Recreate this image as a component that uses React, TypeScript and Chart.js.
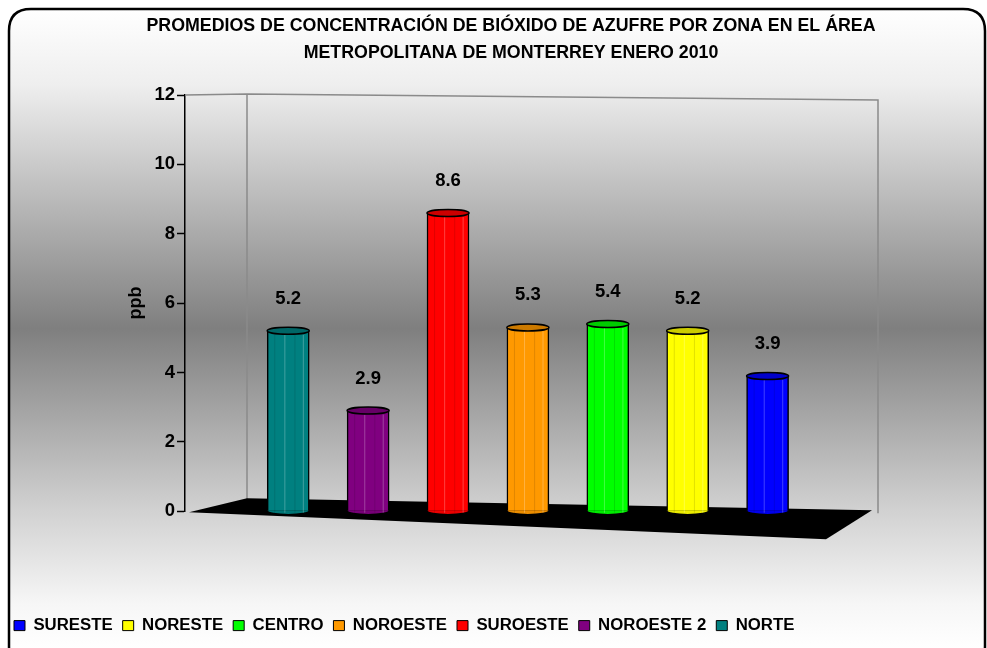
import { useEffect, useRef } from 'react';
import { Chart, registerables } from 'chart.js';

Chart.register(...registerables);

const categories = ['NORTE', 'NOROESTE 2', 'SUROESTE', 'NOROESTE', 'CENTRO', 'NORESTE', 'SURESTE'];
const values = [5.2, 2.9, 8.6, 5.3, 5.4, 5.2, 3.9];
const colors = ['#008080', '#800080', '#ff0000', '#ff9900', '#00ff00', '#ffff00', '#0000ff'];
const yTicks = [0, 2, 4, 6, 8, 10, 12];
const titleLines = [
  'PROMEDIOS DE CONCENTRACIÓN DE BIÓXIDO DE AZUFRE POR ZONA EN EL ÁREA',
  'METROPOLITANA DE MONTERREY ENERO 2010',
];
const yTitle = 'ppb';

const FONT = "'Liberation Sans', Arial, sans-serif";

function shade(hex: string, f: number) {
  const n = parseInt(hex.slice(1), 16);
  const r = Math.min(255, Math.round(((n >> 16) & 255) * f));
  const g = Math.min(255, Math.round(((n >> 8) & 255) * f));
  const b = Math.min(255, Math.round((n & 255) * f));
  return `rgb(${r},${g},${b})`;
}

const framePlugin = {
  id: 'frame',
  beforeDraw(chart: any) {
    const ctx = chart.ctx;
    const x0 = 9, y0 = 9, x1 = 985, y1 = 668, r = 22;
    ctx.save();
    const g = ctx.createLinearGradient(0, y0, 0, 648);
    g.addColorStop(0, '#ffffff');
    g.addColorStop(0.12, '#eeeeee');
    g.addColorStop(0.5, '#7f7f7f');
    g.addColorStop(0.78, '#d0d0d0');
    g.addColorStop(0.93, '#f6f6f6');
    g.addColorStop(1, '#ffffff');
    ctx.beginPath();
    ctx.moveTo(x0 + r, y0);
    ctx.lineTo(x1 - r, y0);
    ctx.quadraticCurveTo(x1, y0, x1, y0 + r);
    ctx.lineTo(x1, y1 - r);
    ctx.quadraticCurveTo(x1, y1, x1 - r, y1);
    ctx.lineTo(x0 + r, y1);
    ctx.quadraticCurveTo(x0, y1, x0, y1 - r);
    ctx.lineTo(x0, y0 + r);
    ctx.quadraticCurveTo(x0, y0, x0 + r, y0);
    ctx.closePath();
    ctx.fillStyle = g;
    ctx.fill();
    ctx.lineWidth = 2.5;
    ctx.strokeStyle = '#000';
    ctx.stroke();

    // title
    ctx.fillStyle = '#000';
    ctx.font = `bold 17.8px ${FONT}`;
    ctx.textAlign = 'center';
    ctx.textBaseline = 'middle';
    ctx.fillText(titleLines[0], 511, 26);
    ctx.fillText(titleLines[1], 511, 53);
    ctx.restore();
  },
  beforeDatasetsDraw(chart: any) {
    const ctx = chart.ctx;
    const { left, right, top } = chart.chartArea;
    const y0 = chart.scales.y.getPixelForValue(0);
    const dx = 62;
    ctx.save();
    // back walls
    ctx.strokeStyle = '#8a8a8a';
    ctx.lineWidth = 1.5;
    ctx.beginPath();
    ctx.moveTo(left, top);
    ctx.lineTo(left + dx, top - 1);
    ctx.lineTo(right, top + 5);
    ctx.lineTo(right, y0 + 2);
    ctx.moveTo(left + dx, top - 1);
    ctx.lineTo(left + dx, y0 - 12);
    ctx.stroke();
    // floor
    ctx.fillStyle = '#000';
    ctx.beginPath();
    ctx.moveTo(left + 4, y0 + 1);
    ctx.lineTo(left + dx, y0 - 13);
    ctx.lineTo(right - 6, y0 - 1);
    ctx.lineTo(right - 52, y0 + 28);
    ctx.closePath();
    ctx.fill();
    ctx.restore();
  },
  afterDatasetsDraw(chart: any) {
    const ctx = chart.ctx;
    const meta = chart.getDatasetMeta(0);
    ctx.save();
    meta.data.forEach((bar: any, i: number) => {
      const { x, y, base, width } = bar.getProps(['x', 'y', 'base', 'width'], true);
      const w = width;
      const l = x - w / 2;
      const c = colors[i];
      // bottom rounded edge
      ctx.beginPath();
      ctx.ellipse(x, base, w / 2, 4, 0, 0, Math.PI);
      ctx.fillStyle = shade(c, 0.92);
      ctx.fill();
      ctx.lineWidth = 1.5;
      ctx.strokeStyle = '#000';
      ctx.stroke();
      // stripes
      ctx.lineWidth = 1;
      [0.18, 0.42, 0.66, 0.86].forEach((p, k) => {
        ctx.strokeStyle = k % 2 ? 'rgba(255,255,255,0.25)' : 'rgba(0,0,0,0.12)';
        ctx.beginPath();
        ctx.moveTo(l + w * p, y + 4);
        ctx.lineTo(l + w * p, base + 2);
        ctx.stroke();
      });
      // top cap
      ctx.beginPath();
      ctx.ellipse(x, y, w / 2, 3.5, 0, 0, Math.PI * 2);
      ctx.fillStyle = shade(c, 0.8);
      ctx.fill();
      ctx.lineWidth = 1.5;
      ctx.strokeStyle = '#000';
      ctx.stroke();
      // value label
      ctx.fillStyle = '#000';
      ctx.font = `bold 18.5px ${FONT}`;
      ctx.textAlign = 'center';
      ctx.textBaseline = 'middle';
      ctx.fillText(values[i].toFixed(1), x, y - 32);
    });
    ctx.restore();
  },
};

export default function App() {
  const ref = useRef<HTMLCanvasElement | null>(null);
  useEffect(() => {
    document.body.style.margin = '0';
    document.body.style.overflow = 'hidden';
    const canvas = ref.current;
    if (!canvas) return;
    const chart = new Chart(canvas, {
      type: 'bar',
      data: {
        datasets: [
          {
            label: 'ppb',
            data: values.map((v, i) => ({ x: i, y: v })),
            backgroundColor: colors,
            borderColor: '#000',
            borderWidth: 1.5,
            borderSkipped: 'bottom',
            barThickness: 42,
          },
        ],
      },
      options: {
        animation: false,
        responsive: false,
        maintainAspectRatio: false,
        layout: { padding: { top: 95, left: 4, right: 109, bottom: 4 } },
        scales: {
          x: {
            type: 'linear',
            min: -0.81,
            max: 6.9,
            display: true,
            ticks: { display: false },
            grid: { display: false },
            border: { display: false },
            afterFit: (s: any) => {
              s.height = 96;
            },
          },
          y: {
            min: yTicks[0],
            max: yTicks[yTicks.length - 1],
            afterBuildTicks: (s: any) => {
              s.ticks = yTicks.map((v) => ({ value: v }));
            },
            ticks: {
              color: '#000',
              font: { family: FONT, size: 18.5, weight: 'bold' },
              padding: 2,
            },
            grid: { drawOnChartArea: false, drawTicks: true, tickLength: 8, tickColor: '#000', tickWidth: 1.5 },
            border: { color: '#000', width: 1.5 },
            title: {
              display: true,
              text: yTitle,
              color: '#000',
              font: { family: FONT, size: 18, weight: 'bold' },
              padding: { top: 121, bottom: 0 },
            },
            afterFit: (s: any) => {
              s.width = 181;
            },
          },
        },
        plugins: {
          title: { display: false },
          tooltip: { enabled: false },
          legend: {
            position: 'bottom',
            align: 'start',
            labels: {
              color: '#000',
              font: { family: FONT, size: 16.8, weight: 'bold' },
              boxWidth: 11,
              boxHeight: 10,
              padding: 10,
              generateLabels: () =>
                categories
                  .map((c, i) => ({
                    text: c,
                    fillStyle: colors[i],
                    strokeStyle: '#000',
                    lineWidth: 1,
                    hidden: false,
                    index: i,
                    datasetIndex: 0,
                  }))
                  .reverse(),
            },
          },
        },
      },
      plugins: [framePlugin],
    } as any);
    return () => chart.destroy();
  }, []);
  return (
    <div style={{ position: 'fixed', left: 0, top: 0, width: 987, height: 648 }}>
      <canvas ref={ref} width={987} height={648} style={{ display: 'block', width: 987, height: 648 }} />
    </div>
  );
}
